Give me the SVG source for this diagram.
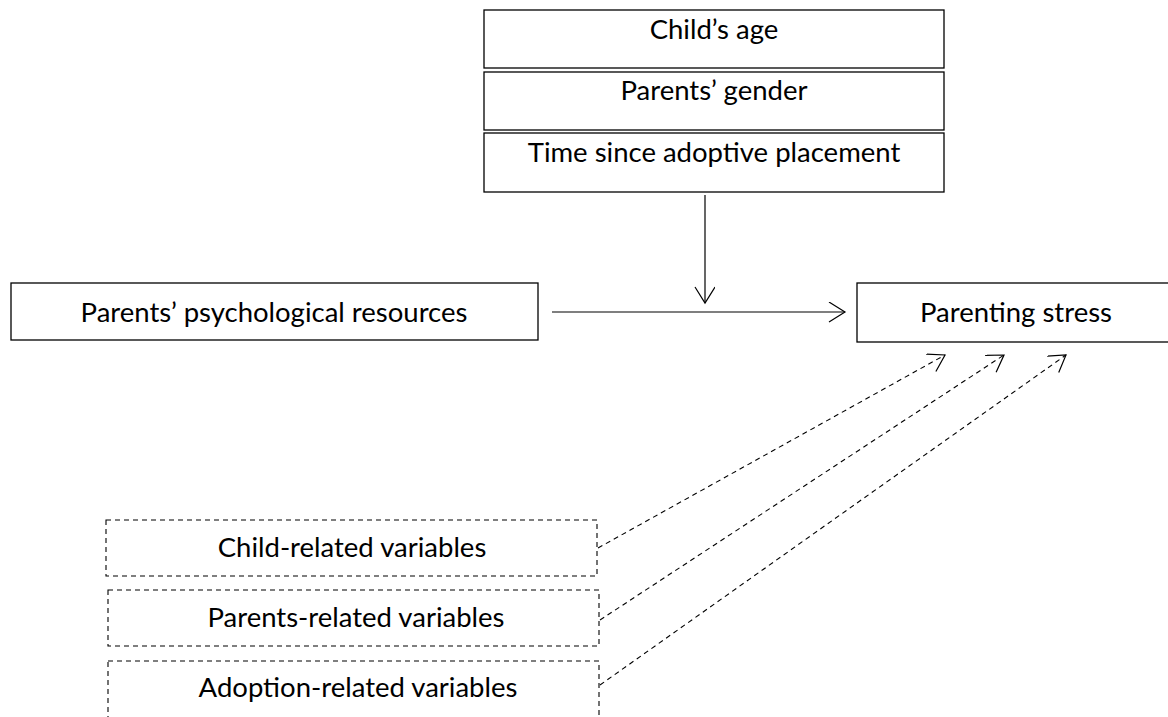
<svg xmlns="http://www.w3.org/2000/svg" width="1168" height="717" viewBox="0 0 1168 717">
<defs>
<style>
.box{fill:#fff;stroke:#000;stroke-width:1.3}
.dbox{fill:#fff;stroke:#000;stroke-width:1.1;stroke-dasharray:5,4}
.t{font-family:"Lato","Liberation Sans",sans-serif;font-size:27.5px;fill:#000;text-anchor:middle}
.ln{stroke:#000;stroke-width:1.2;fill:none}
.dl{stroke:#000;stroke-width:1.1;fill:none;stroke-dasharray:5,4}
</style>
<marker id="ah" markerWidth="20" markerHeight="22" refX="17" refY="10" orient="auto" markerUnits="userSpaceOnUse">
<path d="M1,0 L17,10 L1,20" fill="none" stroke="#000" stroke-width="1.2"/>
</marker>
</defs>
<rect width="1168" height="717" fill="#fff"/>
<g id="childs-age"><rect class="box" x="484" y="10" width="460" height="58"/><text class="t" x="714" y="39">Child’s age</text></g>
<g id="parents-gender"><rect class="box" x="484" y="72" width="460" height="58"/><text class="t" x="714" y="100">Parents’ gender</text></g>
<g id="time-since"><rect class="box" x="484" y="133" width="460" height="59"/><text class="t" x="714" y="162">Time since adoptive placement</text></g>
<g id="psych"><rect class="box" x="11" y="283" width="527" height="57"/><text class="t" x="274" y="322">Parents’ psychological resources</text></g>
<g id="stress"><rect class="box" x="857" y="283" width="320" height="59"/><text class="t" x="1016" y="322">Parenting stress</text></g>
<g id="child-rel"><rect class="dbox" x="106" y="520" width="491" height="56"/><text class="t" x="352" y="557">Child-related variables</text></g>
<g id="parents-rel"><rect class="dbox" x="108" y="590" width="491" height="56"/><text class="t" x="356" y="627">Parents-related variables</text></g>
<g id="adoption-rel"><rect class="dbox" x="108" y="661" width="491" height="70"/><text class="t" x="358" y="697">Adoption-related variables</text></g>
<g id="connectors">
<line class="ln" x1="552" y1="312" x2="845" y2="312" marker-end="url(#ah)"/>
<line class="ln" x1="705" y1="195" x2="705" y2="303" marker-end="url(#ah)"/>
<line class="dl" x1="598" y1="548" x2="945" y2="355" marker-end="url(#ah)"/>
<line class="dl" x1="600" y1="620" x2="1004" y2="355" marker-end="url(#ah)"/>
<line class="dl" x1="600" y1="685" x2="1066" y2="355" marker-end="url(#ah)"/>
</g>
</svg>
